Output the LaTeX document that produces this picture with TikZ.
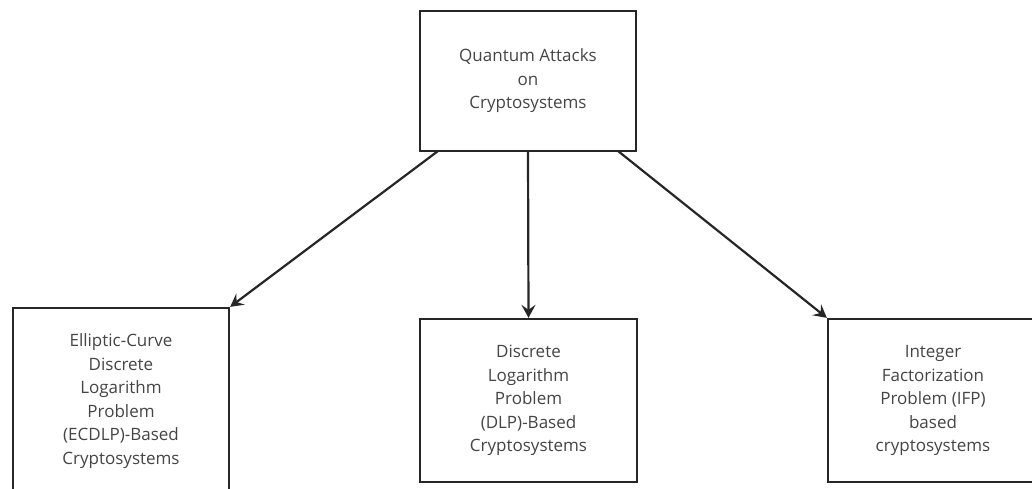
\documentclass[tikz,border=0pt]{standalone}
\usepackage{fontspec}
\setmainfont{Open Sans}
\usetikzlibrary{arrows.meta}
\definecolor{linec}{HTML}{262626}
\definecolor{textc}{HTML}{454545}
\begin{document}
\begin{tikzpicture}[x=1pt,y=-1pt,
  boxst/.style={draw=linec,line width=2.3pt,fill=white,inner sep=0pt,
    font=\fontsize{17}{23.5}\selectfont,text=textc,align=center},
  arrowst/.style={draw=linec,line width=2.2pt,-{Stealth[length=13pt,width=14pt,inset=5pt]}}]
\useasboundingbox (0,0) rectangle (1032,488);
\clip (0,0) rectangle (1032,488);
\node[boxst,minimum width=216pt,minimum height=140pt] (top) at (528,81)
  {Quantum Attacks\\on\\Cryptosystems};
\node[boxst,minimum width=216pt,minimum height=186pt] (left) at (121,401)
  {Elliptic-Curve\\Discrete\\Logarithm\\Problem\\(ECDLP)-Based\\Cryptosystems};
\node[boxst,minimum width=217pt,minimum height=163pt] (mid) at (528.5,400.5)
  {Discrete\\Logarithm\\Problem\\(DLP)-Based\\Cryptosystems};
\node[boxst,minimum width=210pt,minimum height=163pt] (right) at (933,400.5)
  {Integer\\Factorization\\Problem (IFP)\\based\\cryptosystems};
\coordinate (s1) at (438,151);
\coordinate (s3) at (618,151);
\draw[arrowst] (s1) -- (left.north east);
\draw[arrowst] (top.south) -- (mid.north);
\draw[arrowst] (s3) -- (right.north west);
\end{tikzpicture}
\end{document}
